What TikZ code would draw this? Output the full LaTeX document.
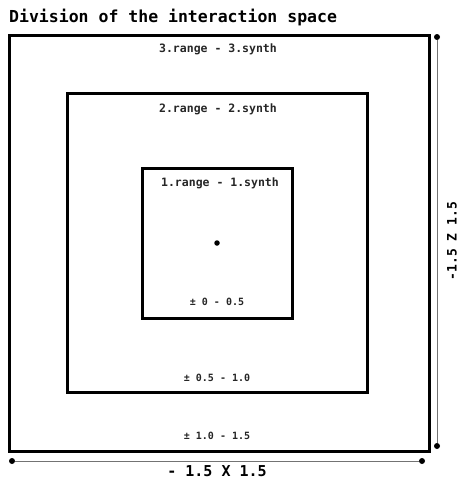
\documentclass[tikz,border=0pt]{standalone}
\usepackage{fontspec}
\setmonofont{DejaVu Sans Mono}
\begin{document}
\begin{tikzpicture}[x=1pt,y=-1pt,
  box/.style={draw=black,line width=3pt,fill=none},
  lbl/.style={font=\ttfamily\bfseries\fontsize{11.5}{13}\selectfont,inner sep=0pt,text=black!85},
  rng/.style={font=\ttfamily\bfseries\fontsize{10}{12}\selectfont,inner sep=0pt,text=black!85},
  axl/.style={draw=black!55,line width=0.9pt},
  dotn/.style={circle,fill=black,inner sep=0pt,minimum size=6pt}]
\useasboundingbox (0,0) rectangle (459,479);
\node[anchor=west,inner sep=0pt,font=\ttfamily\bfseries\fontsize{16.5}{18}\selectfont] (title) at (9,18) {Division of the interaction space};
\draw[box] (9,35) rectangle (429,451);
\draw[box] (67,93) rectangle (367,392);
\draw[box] (142,168) rectangle (292,318);
\node[dotn,minimum size=5.5pt] (c) at (217,243) {};
\node[lbl] (l3) at (218,49) {3.range - 3.synth};
\node[lbl] (l2) at (218,109) {2.range - 2.synth};
\node[lbl] (l1) at (220,183) {1.range - 1.synth};
\node[rng] (r1) at (217,302) {± 0 - 0.5};
\node[rng] (r2) at (217,378) {± 0.5 - 1.0};
\node[rng] (r3) at (217,436) {± 1.0 - 1.5};
\node[dotn] (zt) at (437,37) {};
\node[dotn] (zb) at (437,446) {};
\draw[axl] (zt) -- (zb);
\node[dotn] (xl) at (12,461) {};
\node[dotn] (xr) at (422,461) {};
\draw[axl] (xl) -- (xr);
\node[font=\ttfamily\bfseries\fontsize{15}{17}\selectfont,inner sep=0pt] (xlab) at (217,471) {- 1.5 X 1.5};
\node[font=\ttfamily\bfseries\fontsize{13}{15}\selectfont,inner sep=0pt,rotate=90] (zlab) at (452,241) {-1.5 Z 1.5};
\end{tikzpicture}
\end{document}
